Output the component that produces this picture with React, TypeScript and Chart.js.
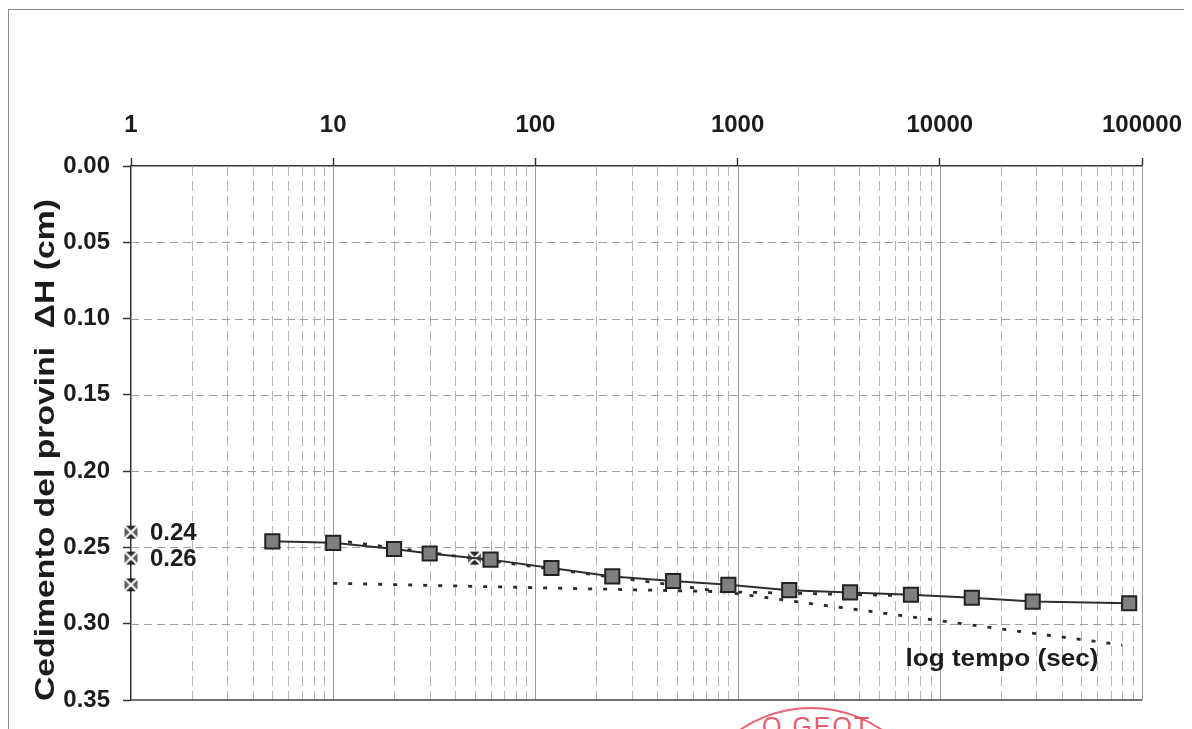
import React, { useEffect, useRef } from "react";
import { Chart, registerables } from "chart.js";

Chart.register(...registerables);

// ---------- data ----------
const timesSec = [5, 10, 20, 30, 60, 120, 240, 480, 900, 1800, 3600, 7200, 14400, 28800, 86400];
const settlementCm = [0.246, 0.247, 0.251, 0.254, 0.258, 0.2635, 0.269, 0.272, 0.2745, 0.278, 0.2795, 0.281, 0.283, 0.2855, 0.2866];

// Casagrande construction points (d0, d50, d100 at t=1 and t50 on the curve)
const refTimesSec = [1, 1, 1, 50];
const refSettlementCm = [0.240, 0.257, 0.2745, 0.257];
const refLabels = ["0.24", "0.26"];
const refLabelValues = [0.240, 0.257];

// tangent lines
const primaryTangentT = [10, 80000];
const primaryTangentV = [0.245, 0.314];
const secondaryTangentT = [10, 7200];
const secondaryTangentV = [0.2735, 0.2817];

// axes
const decadeTicks = [1, 10, 100, 1000, 10000, 100000];
const minorMultipliers = [2, 3, 4, 5, 6, 7, 8, 9];
const yTicks = [0, 0.05, 0.1, 0.15, 0.2, 0.25, 0.3, 0.35];

const yTitle = "Cedimento del provini  \u0394H (cm)";
const xTitle = "log tempo (sec)";

const FONT = '"Liberation Sans", Arial, Helvetica, sans-serif';
const TEXT = "#1c1c1c";

const isDecade = (v: number) => decadeTicks.some((d) => Math.abs(d - v) < 1e-6 * d);

function makeCrossMarker(): HTMLCanvasElement {
  const c = document.createElement("canvas");
  c.width = 15;
  c.height = 15;
  const g = c.getContext("2d")!;
  // top & bottom dark triangles
  g.fillStyle = "#262626";
  g.beginPath();
  g.moveTo(1, 1);
  g.lineTo(14, 1);
  g.lineTo(7.5, 7.5);
  g.closePath();
  g.moveTo(1, 14);
  g.lineTo(14, 14);
  g.lineTo(7.5, 7.5);
  g.closePath();
  g.fill();
  // left & right lighter triangles
  g.fillStyle = "#5a5a5a";
  g.beginPath();
  g.moveTo(1, 1);
  g.lineTo(1, 14);
  g.lineTo(7.5, 7.5);
  g.closePath();
  g.moveTo(14, 1);
  g.lineTo(14, 14);
  g.lineTo(7.5, 7.5);
  g.closePath();
  g.fill();
  // white X
  g.strokeStyle = "#ffffff";
  g.lineWidth = 2.2;
  g.beginPath();
  g.moveTo(1, 1);
  g.lineTo(14, 14);
  g.moveTo(14, 1);
  g.lineTo(1, 14);
  g.stroke();
  return c;
}

const gridPlugin = {
  id: "customGrid",
  beforeDatasetsDraw(chart: any) {
    const { ctx, chartArea: a, scales } = chart;
    const x = scales.x;
    const y = scales.y;
    const seg = (x1: number, y1: number, x2: number, y2: number) => {
      ctx.beginPath();
      ctx.moveTo(x1, y1);
      ctx.lineTo(x2, y2);
      ctx.stroke();
    };
    ctx.save();
    ctx.lineWidth = 1;
    // minor verticals
    ctx.strokeStyle = "#b5b5b5";
    ctx.setLineDash([10, 5]);
    for (let d = 0; d < decadeTicks.length - 1; d++) {
      for (const m of minorMultipliers) {
        const px = Math.round(x.getPixelForValue(decadeTicks[d] * m)) + 0.5;
        seg(px, a.top, px, a.bottom);
      }
    }
    // horizontal majors
    ctx.strokeStyle = "#a0a0a0";
    ctx.setLineDash([8, 5]);
    yTicks.slice(1, -1).forEach((v) => {
      const py = Math.round(y.getPixelForValue(v)) + 0.5;
      seg(a.left, py, a.right, py);
    });
    // decade verticals
    ctx.setLineDash([]);
    ctx.strokeStyle = "#9a9a9a";
    decadeTicks.slice(1).forEach((v) => {
      const px = Math.round(x.getPixelForValue(v)) + 0.5;
      seg(px, a.top, px, a.bottom);
    });
    // bottom frame
    ctx.strokeStyle = "#444444";
    ctx.lineWidth = 1.5;
    seg(a.left, a.bottom, a.right, a.bottom);
    ctx.restore();
  },
  afterDraw(chart: any) {
    const { ctx, scales } = chart;
    const x = scales.x;
    const y = scales.y;
    ctx.save();
    ctx.fillStyle = TEXT;
    // y title (rotated, stretched)
    ctx.save();
    ctx.translate(47, 450);
    ctx.rotate(-Math.PI / 2);
    ctx.font = `bold 27px ${FONT}`;
    const wy = ctx.measureText(yTitle).width;
    ctx.scale(502 / wy, 1);
    ctx.textAlign = "center";
    ctx.textBaseline = "middle";
    ctx.fillText(yTitle, 0, 0);
    ctx.restore();
    // x title
    ctx.save();
    ctx.translate(1002, 659);
    ctx.font = `bold 24px ${FONT}`;
    const wx = ctx.measureText(xTitle).width;
    ctx.scale(193 / wx, 1);
    ctx.textAlign = "center";
    ctx.textBaseline = "middle";
    ctx.fillText(xTitle, 0, 0);
    ctx.restore();
    // reference labels
    ctx.font = `bold 24px ${FONT}`;
    ctx.textAlign = "left";
    ctx.textBaseline = "middle";
    refLabels.forEach((txt, i) => {
      const px = x.getPixelForValue(1) + 19;
      const py = y.getPixelForValue(refLabelValues[i]) + 1;
      ctx.fillText(txt, px, py);
    });
    ctx.restore();
  },
};

export default function App() {
  const ref = useRef<HTMLCanvasElement | null>(null);

  useEffect(() => {
    if (!ref.current) return;
    const cross = makeCrossMarker();
    const xTickValues: number[] = [];
    for (let d = 0; d < decadeTicks.length; d++) {
      xTickValues.push(decadeTicks[d]);
      if (d < decadeTicks.length - 1) minorMultipliers.forEach((m) => xTickValues.push(decadeTicks[d] * m));
    }
    xTickValues.sort((p, q) => p - q);

    const chart = new Chart(ref.current, {
      type: "line",
      data: {
        datasets: [
          {
            label: "Cedimento",
            data: timesSec.map((t, i) => ({ x: t, y: settlementCm[i] })),
            borderColor: "#2e2e2e",
            borderWidth: 2,
            backgroundColor: "#7f7f7f",
            pointStyle: "rect",
            pointRadius: 10,
            pointBorderColor: "#222222",
            pointBorderWidth: 2,
            pointBackgroundColor: "#7f7f7f",
            tension: 0,
            clip: false,
          } as any,
          {
            label: "Riferimenti",
            data: refTimesSec.map((t, i) => ({ x: t, y: refSettlementCm[i] })),
            showLine: false,
            pointStyle: cross,
            pointRadius: 7,
            clip: false,
          } as any,
          {
            label: "Tangente primaria",
            data: primaryTangentT.map((t, i) => ({ x: t, y: primaryTangentV[i] })),
            borderColor: "#2a2a2a",
            borderWidth: 2.8,
            borderDash: [4, 11],
            pointRadius: 0,
            fill: false,
          },
          {
            label: "Tangente secondaria",
            data: secondaryTangentT.map((t, i) => ({ x: t, y: secondaryTangentV[i] })),
            borderColor: "#2a2a2a",
            borderWidth: 2.8,
            borderDash: [4, 11],
            pointRadius: 0,
            fill: false,
          },
        ],
      },
      options: {
        animation: false,
        responsive: false,
        maintainAspectRatio: false,
        layout: { padding: { left: 0, top: 0, right: 50, bottom: 29 } },
        plugins: { legend: { display: false }, tooltip: { enabled: false } },
        scales: {
          x: {
            type: "logarithmic",
            position: "top",
            min: 1,
            max: 100000,
            afterFit: (s: any) => {
              s.height = 166;
              s.paddingLeft = 0;
              s.paddingRight = 0;
            },
            afterBuildTicks: (s: any) => {
              s.ticks = xTickValues.map((v) => ({ value: v }));
            },
            grid: {
              drawOnChartArea: false,
              drawTicks: true,
              tickLength: 8,
              tickWidth: 1.5,
              tickColor: (c: any) => (c.tick && isDecade(c.tick.value) ? "#333333" : "rgba(0,0,0,0)"),
            },
            border: { display: true, color: "#333333", width: 1.5 },
            ticks: {
              autoSkip: false,
              maxRotation: 0,
              minRotation: 0,
              padding: 18,
              color: TEXT,
              font: { family: FONT, size: 24, weight: "bold" },
              callback: (v: any) => (isDecade(Number(v)) ? String(Math.round(Number(v))) : ""),
            },
          } as any,
          y: {
            type: "linear",
            reverse: true,
            min: 0,
            max: 0.35,
            afterFit: (s: any) => {
              s.width = 131;
              s.paddingTop = 0;
              s.paddingBottom = 0;
            },
            afterBuildTicks: (s: any) => {
              s.ticks = yTicks.map((v) => ({ value: v }));
            },
            grid: {
              drawOnChartArea: false,
              drawTicks: true,
              tickLength: 8,
              tickWidth: 1.5,
              tickColor: "#333333",
            },
            border: { display: true, color: "#333333", width: 1.5 },
            ticks: {
              padding: 13,
              color: TEXT,
              font: { family: FONT, size: 24, weight: "bold" },
              callback: (v: any) => Number(v).toFixed(2),
            },
          } as any,
        },
      },
      plugins: [gridPlugin as any],
    });
    return () => chart.destroy();
  }, []);

  return (
    <div
      style={{
        position: "fixed",
        left: 0,
        top: 0,
        width: 1192,
        height: 729,
        overflow: "hidden",
        background: "#ffffff",
      }}
    >
      {/* scanned page frame */}
      <div
        style={{
          position: "absolute",
          left: 8,
          top: 9,
          width: 1175,
          height: 740,
          borderLeft: "1px solid #8a8a8a",
          borderTop: "1px solid #8a8a8a",
        }}
      />
      {/* stamp fragment */}
      <div
        style={{
          position: "absolute",
          left: 811 - 127,
          top: 834 - 127,
          width: 254,
          height: 254,
          borderRadius: "50%",
          border: "2.5px solid rgba(228,70,90,0.85)",
          boxSizing: "border-box",
        }}
      />
      <div
        style={{
          position: "absolute",
          left: 762,
          top: 712,
          fontFamily: FONT,
          fontSize: 25,
          letterSpacing: 2,
          color: "rgba(228,70,90,0.9)",
          whiteSpace: "nowrap",
        }}
      >
        O GEOT
      </div>
      <canvas
        ref={ref}
        width={1192}
        height={729}
        style={{ position: "absolute", left: 0, top: 0, width: 1192, height: 729 }}
      />
    </div>
  );
}
